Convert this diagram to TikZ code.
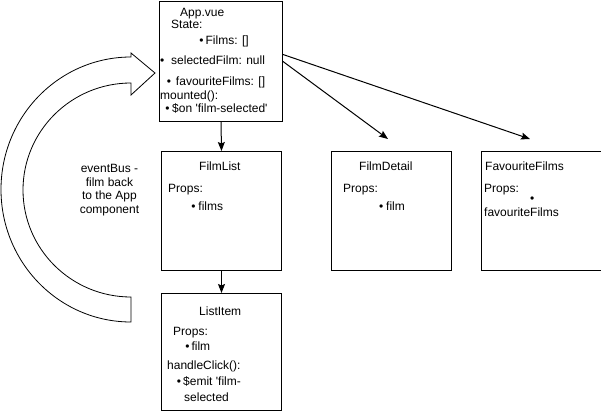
\documentclass[tikz,border=0pt]{standalone}
\usepackage{fontspec}
\setmainfont{Liberation Sans}
\usetikzlibrary{arrows.meta,calc}
\tikzset{comp/.style={draw,line width=1pt,anchor=north west,inner sep=0,
    minimum width=120pt,minimum height=119pt},
  flow/.style={-{Stealth[length=9pt,width=7pt,inset=1.5pt]},line width=1pt},
  txt/.style={anchor=base west,inner sep=0,font=\fontsize{12}{14}\selectfont},
  note/.style={align=center,inner sep=0,font=\fontsize{12}{13.5}\selectfont}}
\newcommand{\dotitem}[1]{\textbullet\hspace{#1pt}}

\begin{document}
\begin{tikzpicture}[x=1pt,y=-1pt]
\useasboundingbox (0,0) rectangle (601,411);
% components
\node[comp,minimum width=123pt,minimum height=120pt] (app) at (159,1) {};
\foreach \n/\x in {filmlist/161,filmdetail/331,favfilms/481}
  \node[comp] (\n) at (\x,151) {};
\node[comp,minimum height=117pt] (listitem) at (161,293) {};
% App.vue
\node[txt] (apptitle) at (180,17) {App.vue};
\node[txt] (appstate) at (171,29) {State:};
\node[txt] (appfilms) at (199.2,45) {\dotitem{2}Films: []};
\node[txt] (appsel) at (159.9,65) {\dotitem{6.9}selectedFilm: null};
\node[txt] (appfav) at (166.6,86) {\dotitem{5}favouriteFilms: []};
\node[txt] (appmount) at (160,100) {mounted():};
\node[txt] (appon) at (165.2,113) {\dotitem{2.6}\$on \textquotesingle film-selected\textquotesingle};
% FilmList
\node[txt] (flname) at (199,171) {FilmList};
\node[txt] (flprops) at (168,193) {Props:};
\node[txt] (flfilms) at (191.2,211) {\dotitem{2.9}films};
% FilmDetail
\node[txt] (fdname) at (359,171) {FilmDetail};
\node[txt] (fdprops) at (343,193) {Props:};
\node[txt] (fdfilm) at (378.9,211) {\dotitem{2.9}film};
% FavouriteFilms
\node[txt] (ffname) at (485,171) {FavouriteFilms};
\node[txt] (ffprops) at (484,193) {Props:};
\node[txt] (ffdot) at (529.9,203) {\textbullet};
\node[txt] (fffavs) at (484,217) {favouriteFilms};
% ListItem
\node[txt] (liname) at (199,315) {ListItem};
\node[txt] (liprops) at (173,335) {Props:};
\node[txt] (lifilm) at (185.2,350) {\dotitem{1.9}film};
\node[txt] (liclick) at (167,369) {handleClick():};
\node[txt] (liemit) at (176.6,385) {\dotitem{2.2}\$emit \textquotesingle film-};
\node[txt] (lisel) at (184,401) {selected};
% eventBus note and the big curved arrow
\node[note] (busnote) at (109.5,190) {eventBus -\\film back\\to the App\\component};
\draw[line width=0.8pt] (155,73) -- (131,53) -- (131,57)
  .. controls (59.2,57) and (1,116.3) .. (1,189.5)
  .. controls (1,262.7) and (59.2,322) .. (131,322) -- (131,297)
  .. controls (71.4,297) and (23,249.1) .. (23,190)
  .. controls (23,130.9) and (71.4,83) .. (131,83) -- (131,95) -- cycle;
% props flow
\coordinate (detailend) at (388,139);
\coordinate (favend) at (530,139);
\draw[flow] (app.south) -- (filmlist.north);
\draw[flow] (filmlist.south) -- (listitem.north);
\draw[flow] (app.east) -- (detailend);
\draw[flow] ($(app.east)+(0,-7)$) -- (favend);
\end{tikzpicture}
\end{document}
